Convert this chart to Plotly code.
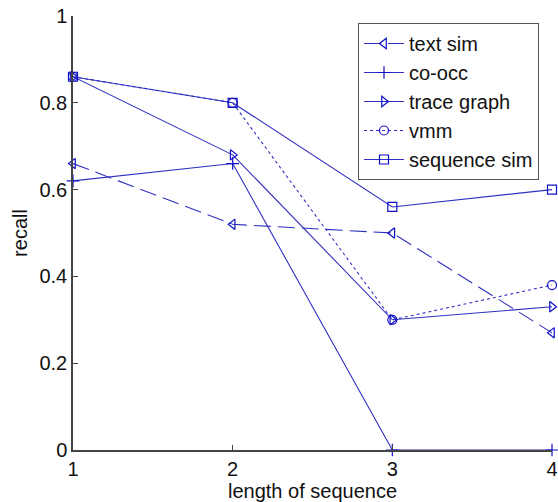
import plotly.graph_objects as go

x_vals = [1, 2, 3, 4]
text_sim = [0.66, 0.52, 0.50, 0.27]
co_occ = [0.62, 0.66, 0.0, 0.0]
trace_graph = [0.86, 0.68, 0.30, 0.33]
vmm = [0.86, 0.80, 0.30, 0.38]
sequence_sim = [0.86, 0.80, 0.56, 0.60]

series_names = ["text sim", "co-occ", "trace graph", "vmm", "sequence sim"]
series_values = [text_sim, co_occ, trace_graph, vmm, sequence_sim]
symbols = ["triangle-left-open", "cross-thin-open", "triangle-right-open", "circle-open", "square-open"]
dashes = ["17px,7px", "solid", "solid", "3px,3px", "solid"]

LINE = "#3030c0"
MARK = "#1010c8"
FONT = "Arial, Liberation Sans, sans-serif"

fig = go.Figure()
for name, vals, sym, dash in zip(series_names, series_values, symbols, dashes):
    fig.add_trace(go.Scatter(
        x=x_vals, y=vals, name=name, mode="lines+markers",
        line=dict(color=LINE, width=1.1, dash=dash),
        marker=dict(symbol=sym, size=9, color=MARK, line=dict(width=1.2, color=MARK)),
        cliponaxis=False,
    ))

W, H = 558, 502
L, R, T, B = 73, 6, 16, 52
fig.update_layout(
    width=W, height=H,
    margin=dict(l=L, r=R, t=T, b=B),
    paper_bgcolor="white", plot_bgcolor="white",
    font=dict(family=FONT, size=20, color="#111111"),
    showlegend=True,
    legend=dict(
        x=(358 - L) / (W - L - R), y=(H - B - 23) / (H - B - T),
        xanchor="left", yanchor="top",
        bgcolor="white", bordercolor="#555555", borderwidth=1,
        font=dict(family=FONT, size=20, color="#111111"),
        itemwidth=40, tracegroupgap=0,
    ),
)
fig.update_xaxes(
    range=[1, 4], tickvals=[1, 2, 3, 4], ticktext=["1", "2", "3", "4"],
    showline=True, linecolor="#444444", linewidth=1.5, mirror=False,
    ticks="inside", ticklen=5, tickcolor="#444444",
    showgrid=False, zeroline=False,
    title=dict(text="length of sequence", standoff=2, font=dict(size=20)),
    automargin=False,
)
fig.update_yaxes(
    range=[0, 1], tickvals=[0, 0.2, 0.4, 0.6, 0.8, 1], ticktext=["0", "0.2", "0.4", "0.6", "0.8", "1"],
    showline=True, linecolor="#444444", linewidth=1.5, mirror=False,
    ticks="inside", ticklen=5, tickcolor="#444444",
    showgrid=False, zeroline=False,
    title=dict(text="recall", standoff=6, font=dict(size=20)),
    automargin=False,
)
fig.write_html("out.html")
